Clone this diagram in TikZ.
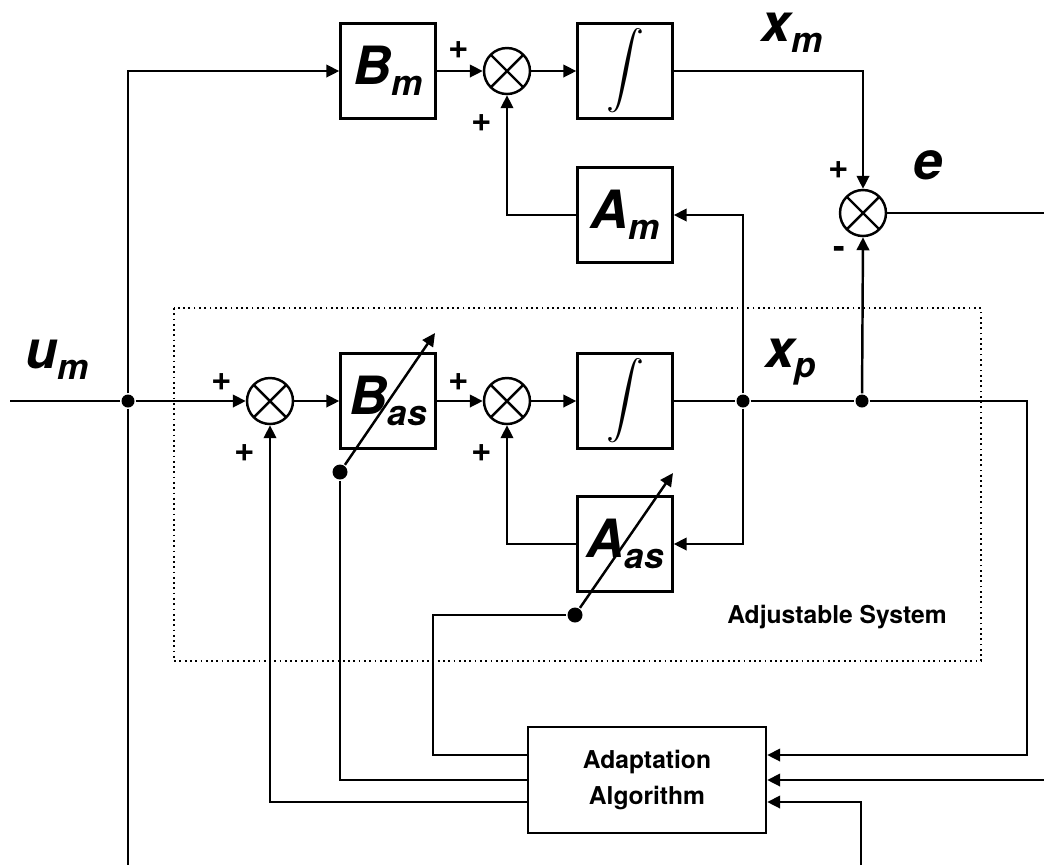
\documentclass[tikz,border=0pt]{standalone}
\usepackage{graphicx}
\usepackage{fontspec}
\setmainfont{TeX Gyre Heros}
\usetikzlibrary{arrows.meta,positioning}

\newcommand{\sigl}[2]{{\fontsize{15}{18}\selectfont\bfseries\itshape #1\raisebox{-3pt}{\fontsize{10}{12}\selectfont #2}}}
\newcommand{\intsym}{\scalebox{1.08}{$\displaystyle\int$}}

\begin{document}
\begin{tikzpicture}[x=0.1mm,y=-0.1mm,line width=0.7pt,
    >={Triangle[length=1.3mm,width=1.25mm]},
    block/.style={draw,minimum width=9.5mm,minimum height=9.5mm,inner sep=0pt},
    sumnode/.style={draw,circle,minimum size=4.6mm,inner sep=0pt,
      path picture={\draw (path picture bounding box.north west) -- (path picture bounding box.south east)
        (path picture bounding box.north east) -- (path picture bounding box.south west);}},
    dot/.style={circle,fill,inner sep=0pt,minimum size=1.3mm},
    tdot/.style={circle,fill,inner sep=0pt,minimum size=1.5mm},
    sgn/.style={font=\fontsize{10}{11}\selectfont\bfseries},
    txt/.style={font=\fontsize{7}{10}\selectfont\bfseries,align=center}]
    \useasboundingbox (0,0) rectangle (1044,867);

    % Reference model
    \node[block] (bm) at (388,71) {\sigl{B}{m}};
    \node[sumnode] (s1) at (507,71) {};
    \node[block] (int1) at (625,71) {\intsym};
    \node[block] (am) at (625,215) {\sigl{A}{m}};
    \node[sumnode] (se) at (863,213) {};

    % Adjustable system
    \draw[densely dotted,line width=0.5pt] (174,308) rectangle (981,661);
    \node[txt] (adjlbl) at (837,617) {Adjustable System};
    \node[dot] (j0) at (128,401) {};
    \node[sumnode] (s2) at (270,401) {};
    \node[block] (bas) at (388,401) {\sigl{B}{as}};
    \node[sumnode] (s3) at (507,401) {};
    \node[block] (int2) at (625,401) {\intsym};
    \node[dot] (j1) at (743,401) {};
    \node[dot] (j2) at (862,401) {};
    \node[block] (aas) at (625,544) {\sigl{A}{as}};
    \node[tdot] (basdot) at (340,472) {};
    \node[tdot] (aasdot) at (575,615) {};
    \coordinate (bastip) at (435,333);
    \coordinate (aastip) at (673,473);

    % Adaptation
    \node[draw,minimum width=2.38cm,minimum height=1.06cm,txt] (adapt) at (647,780) {Adaptation\\Algorithm};

    % Signal labels
    \node (umlbl) at (57,360) {\sigl{u}{m}};
    \node (xmlbl) at (792,33) {\sigl{x}{m}};
    \node (xplbl) at (791,362) {\sigl{x}{p}};
    \node (elbl) at (928,170) {\sigl{e}{}};

    % Signs
    \node[sgn] at (459,50) {+};
    \node[sgn] at (482,123) {+};
    \node[sgn] at (839,170) {+};
    \node[sgn] at (839,252) {-};
    \node[sgn] at (222,382) {+};
    \node[sgn] at (245,453) {+};
    \node[sgn] at (459,382) {+};
    \node[sgn] at (482,453) {+};

    % Free ends
    \coordinate (umin) at (10,401);
    \coordinate (umdown) at (128,865);
    \coordinate (eout) at (1044,213);
    \coordinate (ein) at (1044,780);
    \coordinate (xpturn) at (1027,755);
    \coordinate (umin2) at (861,865);

    % Connections
    \draw (umin) -- (j0);
    \draw[->] (j0) |- (bm.west);
    \draw (j0) -- (umdown);
    \draw[->] (j0) -- (s2.west);
    \draw[->] (s2) -- (bas);
    \draw[->] (bas) -- (s3);
    \draw[->] (s3) -- (int2);
    \draw (int2) -- (j1) -- (j2);
    \draw[->] (j2) -| (xpturn) -- (adapt.east |- xpturn);
    \draw[->] (j1) |- (am.east);
    \draw[->] (j1) |- (aas.east);
    \draw[->] (j2) -- (se.south);
    \draw[->] (int1.east) -| (se.north);
    \draw (se.east) -- (eout);
    \draw[->] (bm) -- (s1);
    \draw[->] (s1) -- (int1);
    \draw[->] (am.west) -| (s1.south);
    \draw[->] (aas.west) -| (s3.south);
    \draw[->] ([yshift=-2.2mm]adapt.west) -| (s2.south);
    \draw (adapt.west) -| (basdot);
    \draw ([yshift=2.5mm]adapt.west) -| ([xshift=-1.42cm]aasdot.center) -- (aasdot);
    \draw[->] (ein) -- (adapt.east);
    \draw[->] (umin2) |- ([yshift=-2.2mm]adapt.east);
    \draw[->] (basdot) -- (bastip);
    \draw[->] (aasdot) -- (aastip);
\end{tikzpicture}
\end{document}
